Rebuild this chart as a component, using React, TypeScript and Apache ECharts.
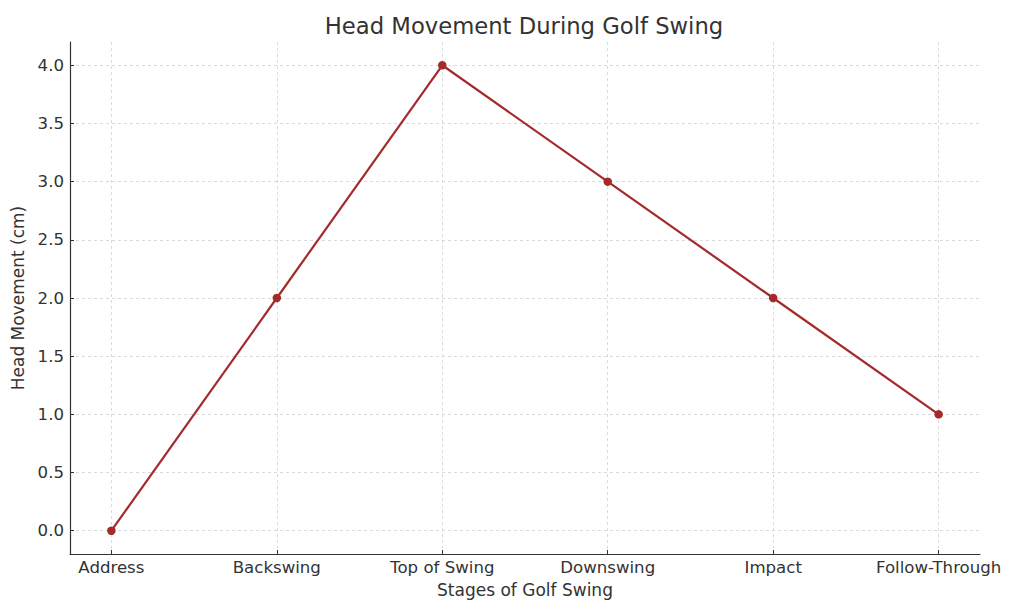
import React, { useEffect, useRef } from "react";
import * as echarts from "echarts";

const stages = ["Address", "Backswing", "Top of Swing", "Downswing", "Impact", "Follow-Through"];
const headMovement = [0, 2, 4, 3, 2, 1];
const yTicks = [0, 0.5, 1, 1.5, 2, 2.5, 3, 3.5, 4];
const xTicks = [0, 1, 2, 3, 4, 5];

export default function App() {
  const ref = useRef<HTMLDivElement>(null);
  useEffect(() => {
    const chart = echarts.init(ref.current!, null, { renderer: "svg" });
    const font = "DejaVu Sans";
    chart.setOption({
      animation: false,
      backgroundColor: "#ffffff",
      title: {
        text: "Head Movement During Golf Swing",
        left: 519,
        textAlign: "center",
        top: 9,
        textStyle: { fontFamily: font, fontSize: 22.7, fontWeight: "normal", color: "#333333" },
      },
      grid: { left: 70, right: 44, top: 42, bottom: 60, containLabel: false },
      xAxis: {
        type: "value",
        min: -0.25,
        max: 5.25,
        name: "Stages of Golf Swing",
        nameLocation: "middle",
        nameGap: 27,
        nameTextStyle: { fontFamily: font, fontSize: 17, color: "#333333" },
        axisLine: { show: true, onZero: false, lineStyle: { color: "#333333", width: 1.2 } },
        axisTick: { show: true, inside: true, length: 4, customValues: xTicks, lineStyle: { color: "#333333" } },
        axisLabel: {
          customValues: xTicks,
          formatter: (v: number) => stages[Math.round(v)] ?? "",
          fontFamily: font,
          fontSize: 16.6,
          color: "#333333",
          margin: 5,
        },
        splitLine: { show: true, lineStyle: { color: "#d0d0d0", type: [3, 3], width: 0.8 } },
      },
      yAxis: {
        type: "value",
        min: -0.2,
        max: 4.2,
        name: "Head Movement (cm)",
        nameLocation: "middle",
        nameRotate: 90,
        nameGap: 38,
        nameTextStyle: { fontFamily: font, fontSize: 17, color: "#333333" },
        axisLine: { show: true, onZero: false, lineStyle: { color: "#333333", width: 1.2 } },
        axisTick: { show: true, inside: true, length: 4, customValues: yTicks, lineStyle: { color: "#333333" } },
        axisLabel: {
          customValues: yTicks,
          formatter: (v: number) => v.toFixed(1),
          fontFamily: font,
          fontSize: 16.6,
          color: "#333333",
          margin: 6,
        },
        splitLine: { show: true, lineStyle: { color: "#d0d0d0", type: [3, 3], width: 0.8 } },
      },
      series: [
        {
          type: "line",
          data: headMovement.map((v, i) => [i, v]),
          lineStyle: { color: "#a52a2a", width: 2.2 },
          itemStyle: { color: "#a52a2a" },
          symbol: "circle",
          symbolSize: 8.5,
          showSymbol: true,
        },
      ],
    });
    return () => chart.dispose();
  }, []);
  return <div ref={ref} style={{ width: 1024, height: 614, position: "absolute", left: 0, top: 0 }} />;
}
